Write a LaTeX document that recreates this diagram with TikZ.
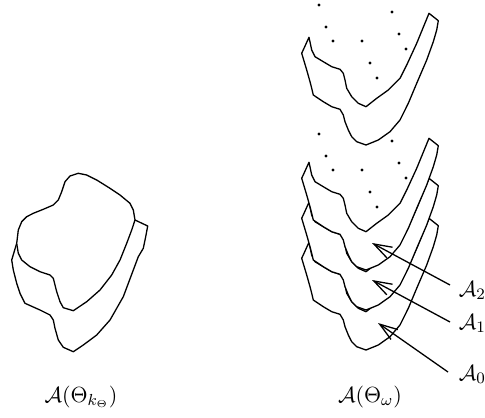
\documentclass[tikz,border=0pt]{standalone}
\usetikzlibrary{arrows.meta}
\begin{document}
\begin{tikzpicture}[x=0.5pt,y=-0.5pt,
  outline/.style={draw=black,line width=0.65pt,line join=round,fill=white},
  openline/.style={draw=black,line width=0.65pt,line join=round},
  arr/.style={draw=black,line width=0.65pt,-{Straight Barb[length=9pt,width=6pt]}},
  dot/.style={fill=black,circle,inner sep=0pt,minimum size=1.7pt},
  lbl/.style={font=\fontsize{11}{13}\selectfont,inner sep=0pt}]
\useasboundingbox (0,0) rectangle (485,417);
\def\crescent{(309,37.3) -- (311.7,50) -- (315,56.7) -- (323.3,61.7) -- (331.7,66.7) -- (340,69.3) -- (343.3,73.3) -- (345,80) -- (346.7,88.3) -- (351.7,96.7) -- (358.3,103.3) -- (366,106.7) -- (376.7,98.3) -- (388.3,90) -- (400,78.3) -- (406.7,65) -- (416.7,43.3) -- (429,13.3) -- (438.3,20.7) -- (436.7,30) -- (433.3,41.7) -- (426.7,60) -- (416.7,83.3) -- (408.3,103.3) -- (400,120) -- (390,131.7) -- (378.3,140) -- (366,145) -- (356.7,141.7) -- (351.7,136.7) -- (348.3,130) -- (345,121.7) -- (343.3,115) -- (340,109.3) -- (331.7,106.7) -- (323.3,101.7) -- (313.3,95) -- (311.7,88.3) -- (310,81.7) -- (306.7,70) -- (301.7,53.3) -- cycle}
% left figure
\draw[openline] (16.7,243.3) -- (11.7,260) -- (13.3,270) -- (16.7,283.3) -- (20,293.3) -- (25,303.3) -- (40,310) -- (50,315) -- (53.3,320) -- (55,328.3) -- (58.3,340) -- (63.3,347.3) -- (73.3,351.7) -- (83.3,345) -- (96.7,335) -- (110,320) -- (123.3,296.7) -- (133.3,270) -- (138.3,256.7) -- (143.3,248.3) -- (145.7,236.7) -- (147.7,226) -- (135,220);
\draw[outline] (16.7,243.3) -- (18.3,230) -- (21.7,221.7) -- (26.7,216.7) -- (33.3,213.3) -- (43.3,209.3) -- (53.3,205) -- (58.3,200) -- (61.7,191.7) -- (65,181.7) -- (70,176) -- (78.3,173.3) -- (86.7,175) -- (96.7,180) -- (110,188.3) -- (120,195) -- (130,203.3) -- (133.3,210) -- (135,220) -- (131.7,230) -- (126.7,243.3) -- (120,260) -- (111.7,275) -- (100,290) -- (86.7,301.7) -- (73.3,310.7) -- (63.3,307.7) -- (60,301.7) -- (56.7,291.7) -- (53.3,278.3) -- (50,275) -- (40,271.7) -- (30,266.7) -- (21.7,260) -- (18.3,253.3) -- cycle;
% right stack
\draw[outline,shift={(0,205)}] \crescent;
\draw[outline,shift={(0,165)}] \crescent;
\draw[outline,shift={(0,125)}] \crescent;
\draw[outline] \crescent;
% dots
\foreach \dy/\g in {0/t,129/b}{
  \foreach \px/\py [count=\i] in {319/5,392/12,326/27,399/34,333/41,362/41,406/49,370/63,377/78}{
    \node[dot] (d\g\i) at (\px,\py+\dy) {};
  }
}
% labels
\node[lbl,anchor=base west] (a2) at (458.5,296) {$\mathcal{A}_2$};
\node[lbl,anchor=base west] (a1) at (458.5,329) {$\mathcal{A}_1$};
\node[lbl,anchor=base west] (a0) at (458.5,380) {$\mathcal{A}_0$};
\node[lbl,anchor=base] (lk) at (81,402) {$\mathcal{A}(\Theta_{k_\Theta})$};
\node[lbl,anchor=base] (lw) at (370,402) {$\mathcal{A}(\Theta_\omega)$};
% arrows
\coordinate (s2) at (450,285); \coordinate (t2) at (372,243);
\coordinate (s1) at (450,322); \coordinate (t1) at (372,280);
\coordinate (s0) at (448,372); \coordinate (t0) at (378,323);
\draw[arr] (s2) -- (t2);
\draw[arr] (s1) -- (t1);
\draw[arr] (s0) -- (t0);
\end{tikzpicture}
\end{document}
